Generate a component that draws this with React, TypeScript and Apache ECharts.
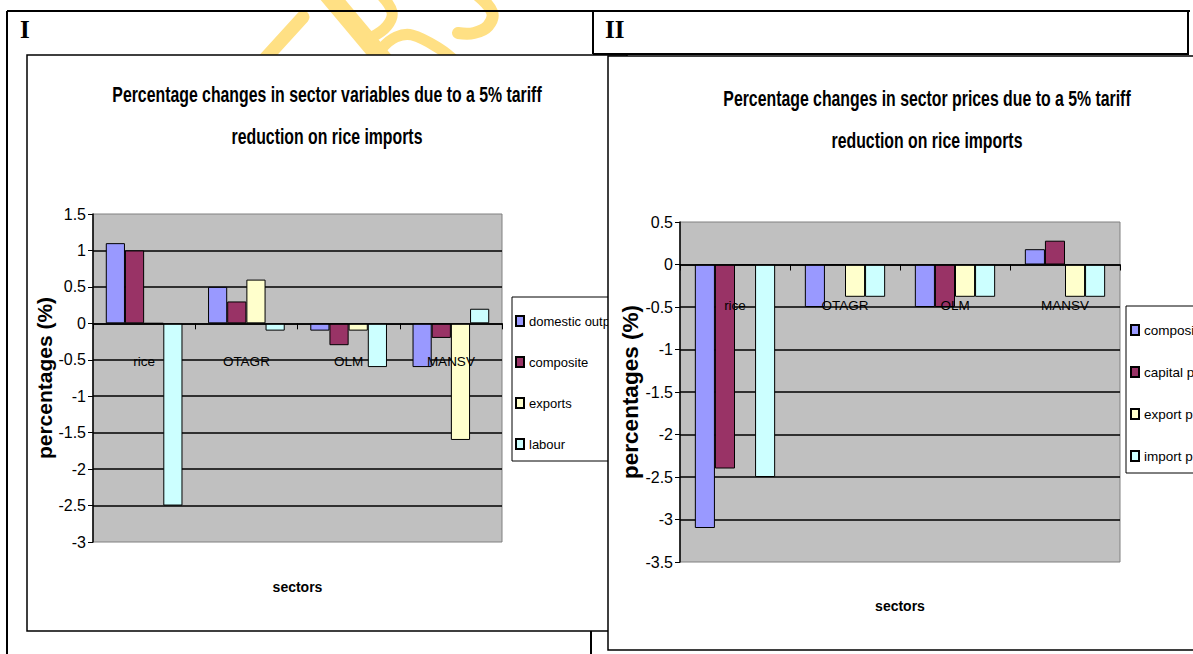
import React, { useEffect, useRef } from 'react';
import * as echarts from 'echarts';

// ---------- data ----------
const sectors = ['rice', 'OTAGR', 'OLM', 'MANSV'];

// Chart I: percentage changes in sector variables
const namesI = ['domestic output', 'composite', 'exports', 'labour'];
const domesticOutput = [1.1, 0.5, -0.1, -0.6];
const compositeI = [1.0, 0.3, -0.3, -0.2];
const exportsI = [0, 0.6, -0.1, -1.6];
const labour = [-2.5, -0.1, -0.6, 0.2];

// Chart II: percentage changes in sector prices
const namesII = ['composite price', 'capital price', 'export price', 'import price'];
const compositePrice = [-3.1, -0.5, -0.5, 0.18];
const capitalPrice = [-2.4, 0, -0.5, 0.28];
const exportPrice = [0, -0.38, -0.38, -0.38];
const importPrice = [-2.5, -0.38, -0.38, -0.38];

const titleI = 'Percentage changes in sector variables due to a 5% tariff\nreduction on rice imports';
const titleII = 'Percentage changes in sector prices due to a 5% tariff\nreduction on rice imports';

// ---------- styles ----------
const SANS = '"Liberation Sans", Arial, sans-serif';
const SERIF = '"Liberation Serif", "Times New Roman", serif';
const COLORS = ['#9999FF', '#993366', '#FFFFCC', '#CCFFFF'];
const WM = '#FFE084';

function barSeries(name: string, data: number[], color: string, idx: number, z: number, gap: string) {
  return {
    type: 'bar',
    name,
    data,
    xAxisIndex: idx,
    yAxisIndex: idx,
    z,
    barGap: '0%',
    barCategoryGap: gap,
    itemStyle: { color, borderColor: '#000', borderWidth: 1 },
  };
}

function yAxis(idx: number, min: number, max: number, z: number, nameGap: number, nameSize: number) {
  return {
    gridIndex: idx,
    type: 'value',
    min,
    max,
    interval: 0.5,
    z,
    name: 'percentages (%)',
    nameLocation: 'middle',
    nameRotate: 90,
    nameGap,
    nameTextStyle: { fontFamily: SANS, fontWeight: 'bold', fontSize: nameSize, color: '#000' },
    axisLine: { show: true, lineStyle: { color: '#000', width: 1.5 } },
    axisTick: { show: true, length: 5, lineStyle: { color: '#000', width: 1 } },
    axisLabel: { fontFamily: SANS, fontSize: 16, color: '#000', margin: 7 },
    splitLine: { show: true, showMinLine: false, showMaxLine: false, lineStyle: { color: '#000', width: 1.5 } },
  };
}

function xAxis(idx: number, z: number, labelMargin: number, nameGap: number) {
  return {
    gridIndex: idx,
    type: 'category',
    data: sectors,
    z,
    axisLine: { show: true, onZero: true, lineStyle: { color: '#000', width: 1.5 } },
    axisTick: { show: true, length: 6, lineStyle: { color: '#000', width: 1 } },
    axisLabel: { fontFamily: SANS, fontSize: 13.5, color: '#000', margin: labelMargin },
    name: 'sectors',
    nameLocation: 'middle',
    nameGap,
    nameTextStyle: { fontFamily: SANS, fontWeight: 'bold', fontSize: 14, color: '#000' },
  };
}

function wmLine(points: number[][], width: number) {
  return {
    type: 'polyline',
    z: 0,
    shape: { points, smooth: 0.4 },
    style: { stroke: WM, lineWidth: width, lineCap: 'round', lineJoin: 'round', fill: null },
  };
}

function line(x1: number, y1: number, x2: number, y2: number, w = 2) {
  return {
    type: 'line',
    z: 30,
    shape: { x1, y1, x2, y2 },
    style: { stroke: '#000', lineWidth: w },
  };
}

function titleText(text: string, x: number, y: number, z: number) {
  return {
    type: 'text',
    z,
    x,
    y,
    scaleX: 0.72,
    style: {
      text,
      fontFamily: SANS,
      fontWeight: 'bold',
      fontSize: 22,
      lineHeight: 42,
      fill: '#000',
      align: 'center',
      verticalAlign: 'top',
    },
  };
}

const option = {
  animation: false,
  backgroundColor: '#fff',
  legend: [
    {
      data: namesI,
      orient: 'vertical',
      left: 512,
      top: 297,
      padding: [16, 10, 9, 3],
      itemWidth: 8,
      itemHeight: 10,
      itemGap: 25,
      icon: 'rect',
      borderColor: '#000',
      borderWidth: 1,
      selectedMode: false,
      z: 5,
      textStyle: { fontFamily: SANS, fontSize: 13, lineHeight: 16, color: '#000' },
    },
    {
      data: namesII,
      orient: 'vertical',
      left: 1126,
      top: 306,
      padding: [16, 10, 9, 4],
      itemWidth: 8,
      itemHeight: 10,
      itemGap: 26,
      icon: 'rect',
      borderColor: '#000',
      borderWidth: 1,
      selectedMode: false,
      z: 14,
      textStyle: { fontFamily: SANS, fontSize: 13.5, lineHeight: 16, color: '#000' },
    },
  ],
  grid: [
    {
      left: 93, top: 214, width: 409, height: 328, outerBoundsMode: 'none', containLabel: false,
      show: true, backgroundColor: '#C0C0C0', borderColor: '#808080', borderWidth: 1, z: 2,
    },
    {
      left: 680, top: 222, width: 440, height: 340, outerBoundsMode: 'none', containLabel: false,
      show: true, backgroundColor: '#C0C0C0', borderColor: '#808080', borderWidth: 1, z: 11,
    },
  ],
  xAxis: [xAxis(0, 5, -188, 38), xAxis(1, 14, -264, 37)],
  yAxis: [yAxis(0, -3, 1.5, 3, 36, 21), yAxis(1, -3.5, 0.5, 12, 35, 22.5)],
  series: [
    barSeries(namesI[0], domesticOutput, COLORS[0], 0, 4, '25%'),
    barSeries(namesI[1], compositeI, COLORS[1], 0, 4, '25%'),
    barSeries(namesI[2], exportsI, COLORS[2], 0, 4, '25%'),
    barSeries(namesI[3], labour, COLORS[3], 0, 4, '25%'),
    barSeries(namesII[0], compositePrice, COLORS[0], 1, 13, '27%'),
    barSeries(namesII[1], capitalPrice, COLORS[1], 1, 13, '27%'),
    barSeries(namesII[2], exportPrice, COLORS[2], 1, 13, '27%'),
    barSeries(namesII[3], importPrice, COLORS[3], 1, 13, '27%'),
  ],
  graphic: [
    // watermark (partly hidden behind the chart frames)
    wmLine([[262, 62], [303, 17]], 13),
    wmLine([[328, -6], [385, 62]], 19),
    wmLine([[380, -6], [392, 12], [387, 26], [372, 37]], 11),
    wmLine([[382, 48], [396, 37], [412, 35], [440, 49], [456, 62]], 11),
    wmLine([[476, -6], [492, 12], [488, 26], [474, 33], [458, 33]], 12),
    // chart frames
    {
      type: 'rect',
      z: 1,
      shape: { x: 27, y: 55, width: 600, height: 576 },
      style: { fill: '#fff', stroke: '#000', lineWidth: 1.5 },
    },
    {
      type: 'rect',
      z: 10,
      shape: { x: 608, y: 56, width: 620, height: 594 },
      style: { fill: '#fff', stroke: '#000', lineWidth: 1.5 },
    },
    // chart titles
    titleText(titleI, 327, 74, 5),
    titleText(titleII, 927, 78, 14),
    // table lines
    line(7, 11, 1190, 11),
    line(7, 11, 7, 654),
    line(1188, 11, 1188, 55),
    line(593, 54, 1188, 54),
    line(593, 11, 593, 54),
    line(591, 631, 591, 654),
    // row labels
    {
      type: 'text',
      z: 30,
      x: 20,
      y: 29,
      style: { text: 'I', fontFamily: SERIF, fontWeight: 'bold', fontSize: 25, fill: '#000', verticalAlign: 'middle' },
    },
    {
      type: 'text',
      z: 30,
      x: 605,
      y: 29,
      style: { text: 'II', fontFamily: SERIF, fontWeight: 'bold', fontSize: 25, fill: '#000', verticalAlign: 'middle' },
    },
  ],
};

export default function App() {
  const ref = useRef<HTMLDivElement>(null);
  useEffect(() => {
    const chart = echarts.init(ref.current as HTMLDivElement, null, { renderer: 'svg' });
    chart.setOption(option as any);
    return () => chart.dispose();
  }, []);
  return <div ref={ref} style={{ position: 'absolute', left: 0, top: 0, width: 1193, height: 654 }} />;
}
